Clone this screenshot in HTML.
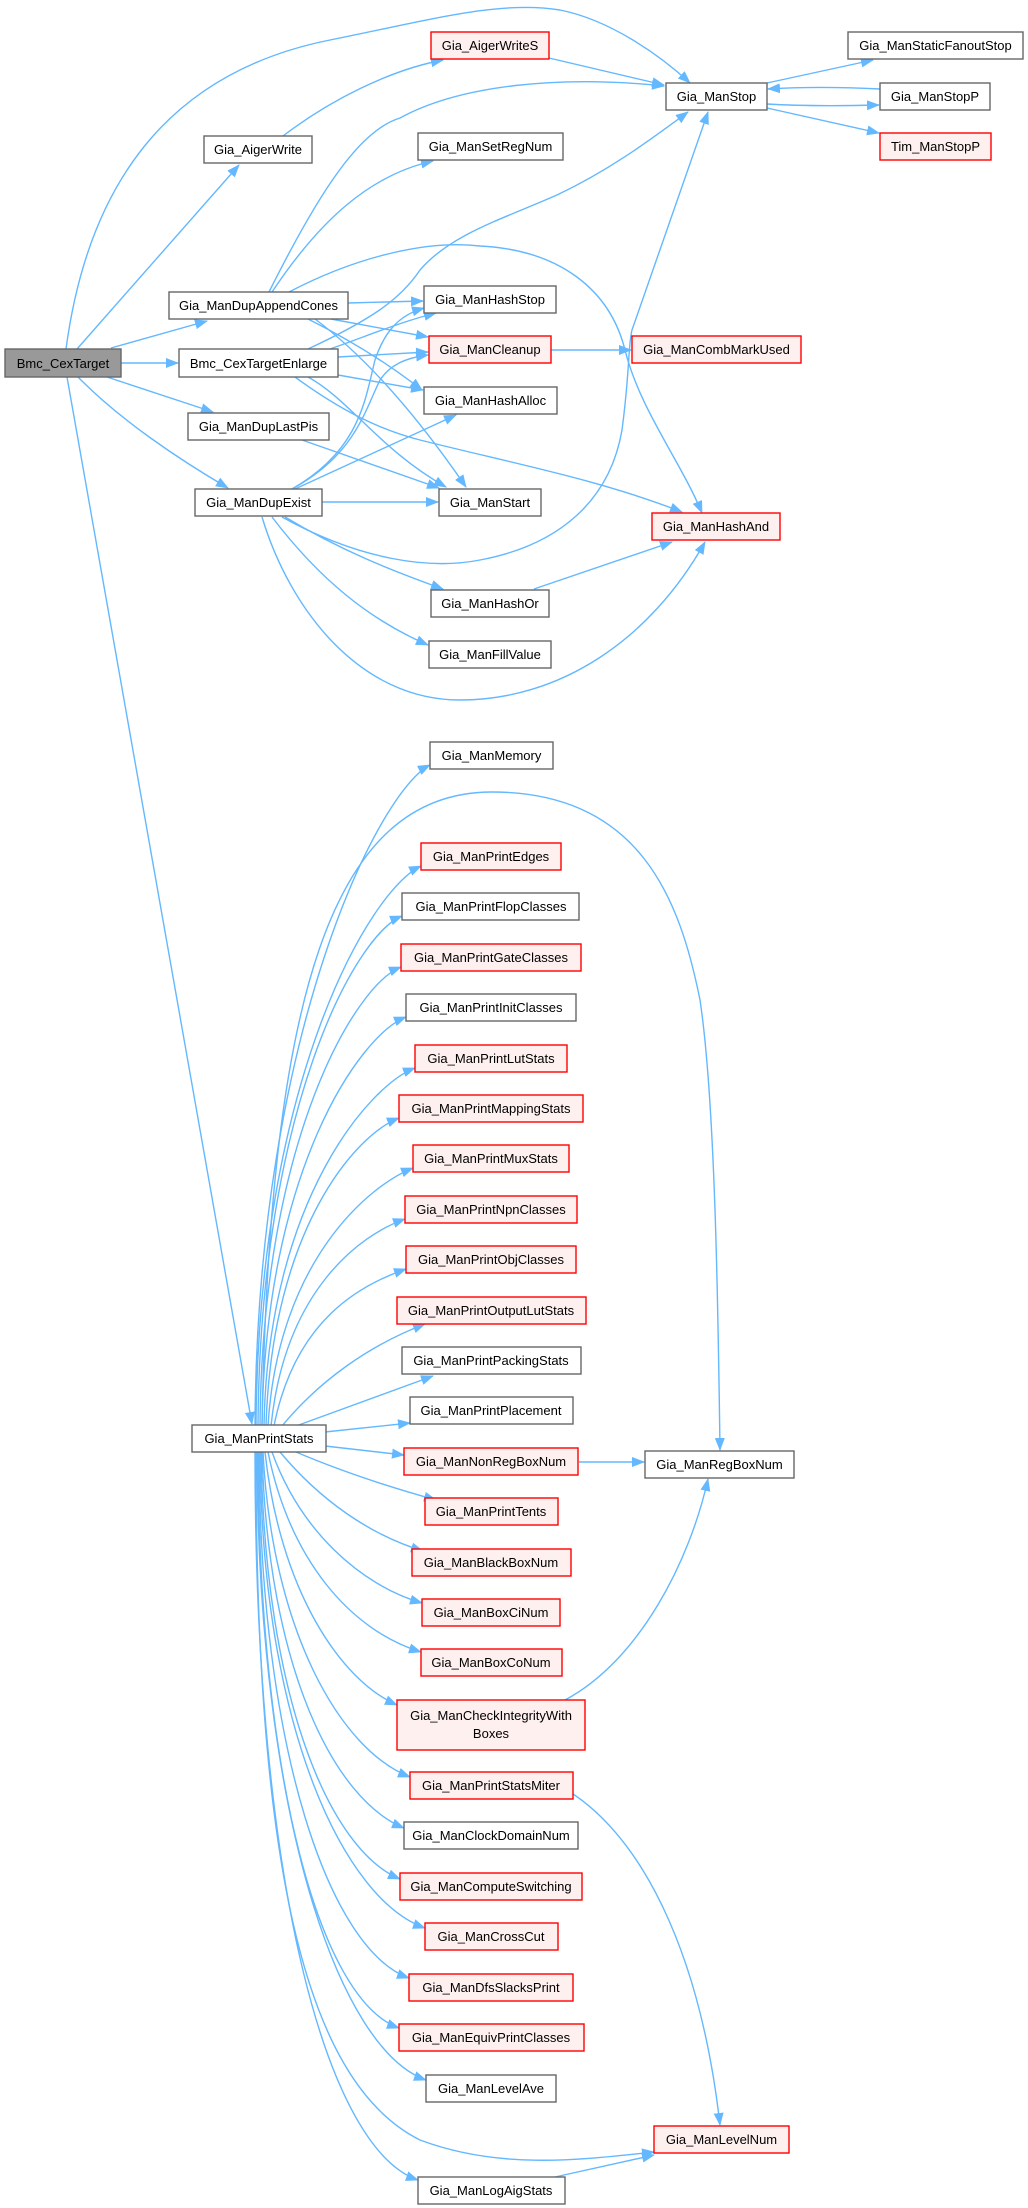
<!DOCTYPE html>
<html><head><meta charset="utf-8"><style>
html,body{margin:0;padding:0;background:#fff;}
svg{display:block;}
text{font-family:"Liberation Sans",Arial,sans-serif;font-size:13px;fill:#000;text-anchor:middle;}
.n{fill:#fff;stroke:#666;stroke-width:1.4;}
.r{fill:#fff0f0;stroke:#ff0000;stroke-width:1.4;}
.g{fill:#999;stroke:#666;stroke-width:1.4;}
.e{fill:none;stroke:#63b8ff;stroke-width:1.4;marker-end:url(#a);}
</style></head><body>
<svg width="1028" height="2208" viewBox="0 0 1028 2208" xmlns="http://www.w3.org/2000/svg">
<defs><marker id="a" markerWidth="13" markerHeight="10" refX="12" refY="5" orient="auto" markerUnits="userSpaceOnUse"><path d="M0,0 L13,5 L0,10z" fill="#63b8ff"/></marker></defs>

<!-- edges top -->
<path class="e" d="M66,349 C90,170 180,70 330,40 C430,20 500,0 560,10 C610,20 660,55 690,83"/>
<path class="e" d="M77,349 L239,165"/>
<path class="e" d="M283,136 C330,100 390,70 443,60"/>
<path class="e" d="M549,58 L664,85"/>
<path class="e" d="M767,83 L873,60"/>
<path class="e" d="M880,89 C840,87 800,87 768,89"/>
<path class="e" d="M767,104 C800,106 840,106 879,105"/>
<path class="e" d="M767,108 L879,133"/>
<path class="e" d="M269,292 C320,190 360,130 400,118 C460,85 560,75 664,86"/>
<path class="e" d="M272,292 C320,220 370,175 433,161"/>
<path class="e" d="M289,292 C360,255 430,240 480,246 C560,250 610,290 625,350 C640,410 680,460 702,513"/>
<path class="e" d="M348,303 L423,301"/>
<path class="e" d="M331,319 L428,337"/>
<path class="e" d="M308,319 C350,340 390,365 422,390"/>
<path class="e" d="M315,319 C370,360 420,420 466,487"/>
<path class="e" d="M308,349 C370,320 400,300 420,270 C450,235 500,220 557,195 C610,170 650,140 688,112"/>
<path class="e" d="M330,349 C370,335 400,322 436,313"/>
<path class="e" d="M338,357 L428,352"/>
<path class="e" d="M338,375 L423,390"/>
<path class="e" d="M308,377 C350,400 380,450 446,487"/>
<path class="e" d="M295,377 C340,410 380,430 420,440 C520,465 600,480 682,512"/>
<path class="e" d="M302,440 L439,488"/>
<path class="e" d="M107,377 L213,412"/>
<path class="e" d="M78,377 C120,420 180,460 228,488"/>
<path class="e" d="M121,363 L178,363"/>
<path class="e" d="M111,348 L207,321"/>
<path class="e" d="M67,377 L252,1424"/>
<path class="e" d="M322,502 L438,502"/>
<path class="e" d="M292,489 C360,450 365,400 375,360 C385,330 400,315 424,308"/>
<path class="e" d="M292,489 C355,455 365,410 380,380 C390,365 405,358 428,355"/>
<path class="e" d="M295,489 L456,415"/>
<path class="e" d="M282,517 C360,560 430,570 480,560 C560,545 610,500 622,430 C630,370 628,345 632,330 L708,112"/>
<path class="e" d="M285,517 C340,550 390,570 443,589"/>
<path class="e" d="M272,517 C320,580 370,620 428,645"/>
<path class="e" d="M262,517 C290,610 360,700 460,700 C560,700 650,640 705,542"/>
<path class="e" d="M534,589 L672,542"/>
<path class="e" d="M551,350 L631,350"/>

<!-- edges from PrintStats -->
<path class="e" d="M255,1426 C257,1030 380,790 430,765"/>
<path class="e" d="M262,1426 C270,1000 330,792 492,792 C640,792 680,900 700,1000 C715,1100 718,1300 720,1450"/>
<path class="e" d="M256,1426 C258,1080 370,890 421,866"/>
<path class="e" d="M258,1426 C260,1110 355,935 402,916"/>
<path class="e" d="M260,1426 C262,1140 355,985 401,967"/>
<path class="e" d="M262,1426 C265,1170 360,1035 406,1017"/>
<path class="e" d="M264,1426 C268,1200 370,1085 415,1068"/>
<path class="e" d="M266,1426 C272,1230 355,1135 399,1118"/>
<path class="e" d="M268,1426 C278,1260 370,1185 413,1168"/>
<path class="e" d="M271,1426 C285,1290 360,1235 405,1219"/>
<path class="e" d="M274,1426 C295,1320 360,1285 406,1269"/>
<path class="e" d="M282,1426 C320,1380 370,1345 425,1324"/>
<path class="e" d="M296,1426 L433,1376"/>
<path class="e" d="M325,1432 L410,1423"/>
<path class="e" d="M325,1446 L404,1455"/>
<path class="e" d="M296,1452 C350,1475 400,1490 436,1500"/>
<path class="e" d="M280,1452 C320,1500 370,1535 423,1551"/>
<path class="e" d="M272,1452 C300,1530 360,1585 422,1603"/>
<path class="e" d="M268,1452 C290,1560 350,1630 421,1652"/>
<path class="e" d="M265,1452 C280,1590 340,1680 397,1705"/>
<path class="e" d="M263,1452 C272,1630 340,1750 410,1777"/>
<path class="e" d="M262,1452 C268,1670 335,1800 404,1828"/>
<path class="e" d="M261,1452 C265,1700 330,1850 400,1879"/>
<path class="e" d="M260,1452 C262,1730 345,1900 425,1928"/>
<path class="e" d="M259,1452 C260,1750 330,1950 409,1978"/>
<path class="e" d="M258,1452 C259,1780 320,2000 399,2028"/>
<path class="e" d="M257,1452 C258,1820 340,2050 426,2080"/>
<path class="e" d="M255,1452 C255,1900 330,2150 418,2180"/>
<path class="e" d="M256,1452 C256,1850 300,2080 420,2140 C500,2170 580,2160 654,2152"/>
<path class="e" d="M579,1462 L644,1462"/>
<path class="e" d="M565,1700 C640,1660 690,1560 708,1479"/>
<path class="e" d="M560,1786 C640,1830 700,1950 720,2125"/>
<path class="e" d="M555,2177 L654,2155"/>

<!-- nodes -->
<rect class="g" x="5" y="349" width="116" height="28"/><text x="63" y="368">Bmc_CexTarget</text>
<rect class="r" x="431" y="32" width="118" height="27"/><text x="490" y="50">Gia_AigerWriteS</text>
<rect class="n" x="204" y="136" width="108" height="27"/><text x="258" y="154">Gia_AigerWrite</text>
<rect class="n" x="666" y="83" width="101" height="27"/><text x="716.5" y="101">Gia_ManStop</text>
<rect class="n" x="848" y="32" width="175" height="27"/><text x="935.5" y="50">Gia_ManStaticFanoutStop</text>
<rect class="n" x="880" y="83" width="110" height="27"/><text x="935" y="101">Gia_ManStopP</text>
<rect class="r" x="880" y="133" width="111" height="27"/><text x="935.5" y="151">Tim_ManStopP</text>
<rect class="n" x="418" y="133" width="145" height="27"/><text x="490.5" y="151">Gia_ManSetRegNum</text>
<rect class="n" x="169" y="292" width="179" height="27"/><text x="258.5" y="310">Gia_ManDupAppendCones</text>
<rect class="n" x="179" y="349" width="159" height="28"/><text x="258.5" y="368">Bmc_CexTargetEnlarge</text>
<rect class="n" x="188" y="413" width="141" height="27"/><text x="258.5" y="431">Gia_ManDupLastPis</text>
<rect class="n" x="195" y="489" width="127" height="27"/><text x="258.5" y="507">Gia_ManDupExist</text>
<rect class="n" x="424" y="286" width="132" height="27"/><text x="490" y="304">Gia_ManHashStop</text>
<rect class="r" x="429" y="336" width="122" height="27"/><text x="490" y="354">Gia_ManCleanup</text>
<rect class="r" x="632" y="336" width="169" height="27"/><text x="716.5" y="354">Gia_ManCombMarkUsed</text>
<rect class="n" x="424" y="387" width="133" height="27"/><text x="490.5" y="405">Gia_ManHashAlloc</text>
<rect class="n" x="439" y="489" width="102" height="27"/><text x="490" y="507">Gia_ManStart</text>
<rect class="r" x="652" y="513" width="128" height="27"/><text x="716" y="531">Gia_ManHashAnd</text>
<rect class="n" x="431" y="590" width="118" height="27"/><text x="490" y="608">Gia_ManHashOr</text>
<rect class="n" x="429" y="641" width="122" height="27"/><text x="490" y="659">Gia_ManFillValue</text>
<rect class="n" x="430" y="742" width="123" height="27"/><text x="491.5" y="760">Gia_ManMemory</text>
<rect class="n" x="192" y="1425" width="134" height="27"/><text x="259" y="1443">Gia_ManPrintStats</text>
<rect class="n" x="645" y="1451" width="149" height="27"/><text x="719.5" y="1469">Gia_ManRegBoxNum</text>
<rect class="r" x="654" y="2126" width="135" height="27"/><text x="721.5" y="2144">Gia_ManLevelNum</text>

<rect class="r" x="421" y="843" width="140" height="27"/><text x="491" y="861">Gia_ManPrintEdges</text>
<rect class="n" x="402" y="893" width="177" height="27"/><text x="491" y="911">Gia_ManPrintFlopClasses</text>
<rect class="r" x="401" y="944" width="180" height="27"/><text x="491" y="962">Gia_ManPrintGateClasses</text>
<rect class="n" x="406" y="994" width="170" height="27"/><text x="491" y="1012">Gia_ManPrintInitClasses</text>
<rect class="r" x="415" y="1045" width="152" height="27"/><text x="491" y="1063">Gia_ManPrintLutStats</text>
<rect class="r" x="399" y="1095" width="184" height="27"/><text x="491" y="1113">Gia_ManPrintMappingStats</text>
<rect class="r" x="413" y="1145" width="156" height="27"/><text x="491" y="1163">Gia_ManPrintMuxStats</text>
<rect class="r" x="405" y="1196" width="172" height="27"/><text x="491" y="1214">Gia_ManPrintNpnClasses</text>
<rect class="r" x="406" y="1246" width="170" height="27"/><text x="491" y="1264">Gia_ManPrintObjClasses</text>
<rect class="r" x="397" y="1297" width="189" height="27"/><text x="491" y="1315">Gia_ManPrintOutputLutStats</text>
<rect class="n" x="402" y="1347" width="179" height="27"/><text x="491" y="1365">Gia_ManPrintPackingStats</text>
<rect class="n" x="410" y="1397" width="163" height="27"/><text x="491" y="1415">Gia_ManPrintPlacement</text>
<rect class="r" x="404" y="1448" width="174" height="27"/><text x="491" y="1466">Gia_ManNonRegBoxNum</text>
<rect class="r" x="425" y="1498" width="133" height="27"/><text x="491" y="1516">Gia_ManPrintTents</text>
<rect class="r" x="412" y="1549" width="159" height="27"/><text x="491" y="1567">Gia_ManBlackBoxNum</text>
<rect class="r" x="422" y="1599" width="138" height="27"/><text x="491" y="1617">Gia_ManBoxCiNum</text>
<rect class="r" x="421" y="1649" width="141" height="27"/><text x="491" y="1667">Gia_ManBoxCoNum</text>
<rect class="r" x="397" y="1700" width="188" height="50"/><text x="491" y="1720">Gia_ManCheckIntegrityWith</text><text x="491" y="1738">Boxes</text>
<rect class="r" x="410" y="1772" width="163" height="27"/><text x="491" y="1790">Gia_ManPrintStatsMiter</text>
<rect class="n" x="404" y="1822" width="174" height="27"/><text x="491" y="1840">Gia_ManClockDomainNum</text>
<rect class="r" x="400" y="1873" width="182" height="27"/><text x="491" y="1891">Gia_ManComputeSwitching</text>
<rect class="r" x="425" y="1923" width="133" height="27"/><text x="491" y="1941">Gia_ManCrossCut</text>
<rect class="r" x="409" y="1974" width="164" height="27"/><text x="491" y="1992">Gia_ManDfsSlacksPrint</text>
<rect class="r" x="399" y="2024" width="185" height="27"/><text x="491" y="2042">Gia_ManEquivPrintClasses</text>
<rect class="n" x="426" y="2075" width="130" height="27"/><text x="491" y="2093">Gia_ManLevelAve</text>
<rect class="n" x="418" y="2177" width="147" height="27"/><text x="491" y="2195">Gia_ManLogAigStats</text>
</svg>
</body></html>
